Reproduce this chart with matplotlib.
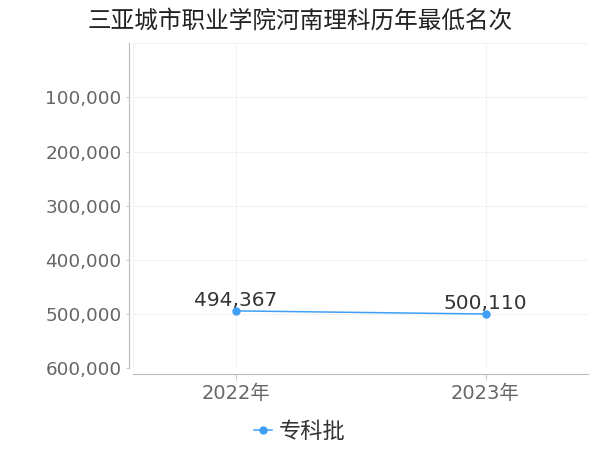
import matplotlib.pyplot as plt
from matplotlib.ticker import FuncFormatter, FixedLocator

plt.rcParams['font.family'] = ['DejaVu Sans', 'Noto Sans CJK SC']

# ---------------- data ----------------
years = ["2022年", "2023年"]
ranks = [494367, 500110]
series_name = "专科批"
title = "三亚城市职业学院河南理科历年最低名次"

yticks = [100000, 200000, 300000, 400000, 500000, 600000]

# ---------------- plot ----------------
fig = plt.figure(figsize=(6, 4.5), dpi=100)
ax = fig.add_axes([0.222, 0.182, 0.758, 0.722])

x = list(range(len(years)))
line_color = "#3f9ff7"
ax.plot(x, ranks, color=line_color, lw=1.1, marker="o", ms=5,
        label=series_name, zorder=3)

for xi, v in zip(x, ranks):
    ax.annotate(f"{v:,}", (xi, v), xytext=(0, 1), textcoords="offset points",
                ha="center", va="bottom", fontsize=14.5, color="#333333")

ax.set_ylim(600000, 0)
ax.set_xlim(-0.41, 1.41)
ax.yaxis.set_major_locator(FixedLocator(yticks))
ax.yaxis.set_major_formatter(FuncFormatter(lambda v, p: f"{int(v):,}"))
ax.set_xticks(x)
ax.set_xticklabels(years)

ax.tick_params(axis="y", labelsize=13.2, colors="#666666", length=2.5, pad=3)
ax.tick_params(axis="x", labelsize=14, colors="#666666", length=4)
ax.tick_params(axis="both", color="#cccccc")

# light grid, including the plot edges
ax.grid(True, color="#f2f2f2", lw=0.8)
for xv in ax.get_xlim():
    ax.axvline(xv, color="#f2f2f2", lw=0.8)
ax.axhline(0, color="#f2f2f2", lw=0.8)

for s in ["top", "right"]:
    ax.spines[s].set_visible(False)
ax.spines["left"].set_position(("outward", 3))
ax.spines["bottom"].set_position(("outward", 4))
ax.spines["left"].set_color("#bbbbbb")
ax.spines["bottom"].set_color("#bbbbbb")

fig.text(0.5, 0.955, title, ha="center", va="center", fontsize=17, color="#222222")

fig.legend(loc="center", bbox_to_anchor=(0.5, 0.04), frameon=False,
           fontsize=16, handlelength=0.8, handletextpad=0.3,
           labelcolor="#333333")

fig.savefig("out.png", dpi=100)
